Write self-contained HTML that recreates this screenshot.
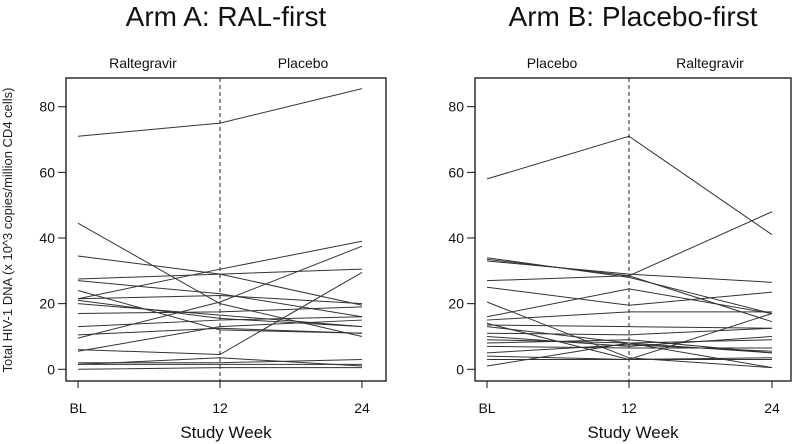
<!DOCTYPE html>
<html><head><meta charset="utf-8"><style>
html,body{margin:0;padding:0;background:#fff;}
svg{display:block;font-family:"Liberation Sans",Arial,sans-serif;}
</style></head><body>
<svg id="chart" width="800" height="444" viewBox="0 0 800 444">
<text x="12" y="230" transform="rotate(-90 12 230)" text-anchor="middle" font-size="13" fill="#222">Total HIV-1 DNA (x 10^3 copies/million CD4 cells)</text>
</svg>
<script>
const weeks = ["BL","12","24"];
const yTicks = [0,20,40,60,80];
const armATitle = "Arm A: RAL-first";
const armBTitle = "Arm B: Placebo-first";
const armALabels = ["Raltegravir","Placebo"];
const armBLabels = ["Placebo","Raltegravir"];
const armA = [
 [71,75,85.5],[44.5,20,10],[34.5,29,19.5],[27.5,29,30.5],[27,23,16],
 [21.5,30.5,39],[21.5,22.5,20],[21,15.5,13],[20,16.5,13],[24,12,11],
 [17,17.5,19],[13,15,16],[10.5,12.5,11],[9.5,20.5,37.5],[6,4.5,29.5],
 [5.5,13,15],[1.5,3.5,1],[2,2,3],[0,0.5,0.5],[1.5,1.5,1.5]
];
const armB = [
 [58,71,41],[33.5,28.5,48],[33,29,26.5],[34,28,17],[27,28.5,14.5],
 [25,19.5,23.5],[16,24.5,17],[20.5,3.5,0.5],[15,17.5,17.5],[13.5,13,12.5],
 [14,3,17],[11,10.5,12.5],[10,7,10],[9,8,9],[8,9,5],[7,6.5,6.5],
 [5,7.5,5.5],[4,3,3],[3,3,3.5],[1,8,0.5],[13,8,5]
];
const NS="http://www.w3.org/2000/svg";
const svg=document.getElementById('chart');
function mk(tag,attrs,parent){const e=document.createElementNS(NS,tag);for(const k in attrs)e.setAttribute(k,attrs[k]);(parent||svg).appendChild(e);return e;}
function panel(cfg,title,labels,data,key){
  const g=mk('g',{});
  
  
  const yS=v=>cfg.y0-(v/80)*(cfg.y0-cfg.y80);
  const xS=i=>cfg.xs[i];
  const t=mk('text',{x:(cfg.left+cfg.right)/2,y:26,'text-anchor':'middle','font-size':28,fill:'#111'},g);t.textContent=title;
  
  
  labels.forEach((l,i)=>{const s=mk('text',{x:(i==0?(cfg.left+xS(1))/2:(xS(1)+cfg.right)/2),y:68,'text-anchor':'middle','font-size':14,fill:'#111'},g);s.textContent=l;
    
    });
  const fr=mk('rect',{x:cfg.left,y:78,width:cfg.right-cfg.left,height:303,fill:'none',stroke:'#111','stroke-width':1.3},g);
  
  
  mk('line',{x1:xS(1),x2:xS(1),y1:78,y2:381,stroke:'#222','stroke-dasharray':'4,3','stroke-width':1},g);
  yTicks.forEach(v=>{const y=yS(v);mk('line',{x1:cfg.left-8,x2:cfg.left,y1:y,y2:y,stroke:'#111'},g);
    const tl=mk('text',{x:cfg.left-11,y:y+5,'text-anchor':'end','font-size':14,fill:'#111'},g);tl.textContent=v;
    
    });
  weeks.forEach((w,i)=>{mk('line',{x1:xS(i),x2:xS(i),y1:381,y2:388,stroke:'#111'},g);
    const tl=mk('text',{x:xS(i),y:413,'text-anchor':'middle','font-size':14,fill:'#111'},g);tl.textContent=w;
    
    });
  const xt=mk('text',{x:(cfg.left+cfg.right)/2,y:438,'text-anchor':'middle','font-size':17,fill:'#111'},g);xt.textContent='Study Week';
  
  
  data.forEach(row=>{const p=mk('polyline',{points:row.map((v,i)=>xS(i)+','+yS(v)).join(' '),fill:'none',stroke:'#333','stroke-width':1},g);
    
    });
}
panel({left:66,right:386,xs:[78,220,362],y0:369.3,y80:106.7},armATitle,armALabels,armA,'arm-a');
panel({left:475,right:791,xs:[487,629,772],y0:369.3,y80:106.7},armBTitle,armBLabels,armB,'arm-b');
</script>
</body></html>
